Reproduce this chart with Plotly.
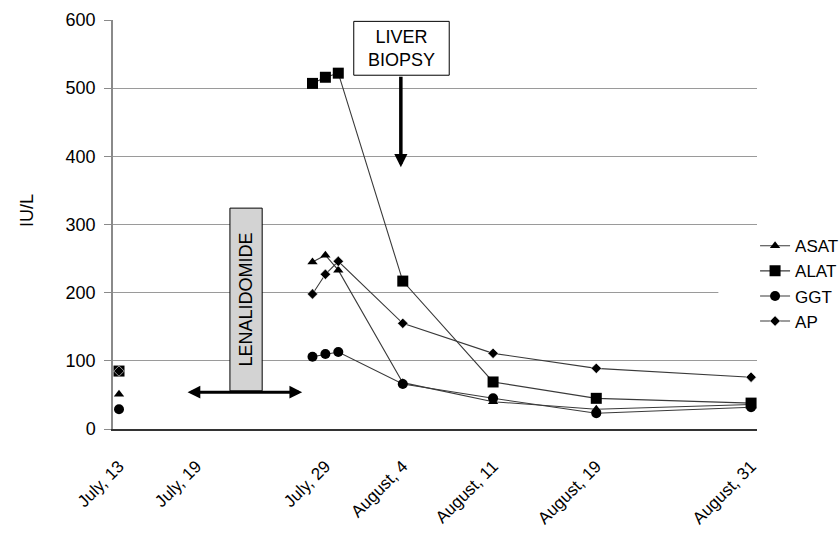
import pandas as pd
import plotly.graph_objects as go

# ---- data ----
dates = ["2009-07-13", "2009-07-28", "2009-07-29", "2009-07-30",
         "2009-08-04", "2009-08-11", "2009-08-19", "2009-08-31"]
asat = [51, 245, 255, 233, 68, 40, 29, 36]
alat = [85, 507, 516, 522, 217, 69, 45, 38]
ggt = [29, 106, 110, 113, 66, 45, 23, 32]
ap = [85, 198, 227, 246, 155, 111, 89, 76]

tick_dates = ["2009-07-13", "2009-07-19", "2009-07-29", "2009-08-04",
              "2009-08-11", "2009-08-19", "2009-08-31"]
tick_text = ["July, 13", "July, 19", "July, 29", "August, 4",
             "August, 11", "August, 19", "August, 31"]
y_ticks = [0, 100, 200, 300, 400, 500, 600]

FONT = "Liberation Sans, Arial, sans-serif"
LINE = "#3a3a3a"
base = pd.Timestamp("2009-07-13")


def day(d):
    return (base + pd.Timedelta(days=d)).strftime("%Y-%m-%d %H:%M")


def broken(vals):
    # first measurement is isolated (no connecting line)
    return vals[:1] + [None] + vals[1:]


xs = broken(dates)

series = [
    ("ASAT", asat, "triangle-up", 9),
    ("ALAT", alat, "square", 11),
    ("GGT", ggt, "circle", 10),
    ("AP", ap, "diamond", 8),
]

fig = go.Figure()
for name, vals, sym, size in series:
    fig.add_trace(go.Scatter(
        x=xs, y=broken(vals), name=name, mode="lines+markers",
        connectgaps=False,
        line=dict(color=LINE, width=1.1),
        marker=dict(symbol=sym, size=size, color="black",
                    line=dict(color="white" if name == "AP" else "black",
                              width=0.6 if name == "AP" else 0)),
    ))

shapes = [
    # white legend backing over the gridline
    dict(type="rect", xref="paper", yref="paper", x0=0.94, x1=1.0,
         y0=0.205, y1=0.48, fillcolor="white", line=dict(width=0),
         layer="above"),
    # lenalidomide box
    dict(type="rect", xref="x", yref="y", x0=day(8.6), x1=day(11.1),
         y0=56, y1=324, fillcolor="#d3d3d3",
         line=dict(color="black", width=1), layer="above"),
    # liver biopsy box
    dict(type="rect", xref="x", yref="y", x0=day(18.2), x1=day(25.6),
         y0=519, y1=598, fillcolor="white",
         line=dict(color="black", width=1), layer="above"),
]

annotations = [
    dict(text="LENALIDOMIDE", x=day(9.85), y=190, xref="x", yref="y",
         textangle=-90, showarrow=False,
         font=dict(size=18, color="black", family=FONT)),
    dict(text="LIVER<br>BIOPSY", x=day(21.9), y=558, xref="x", yref="y",
         showarrow=False, font=dict(size=18, color="black", family=FONT)),
    # biopsy arrow
    dict(x=day(21.85), y=384, ax=day(21.85), ay=519, xref="x", yref="y",
         axref="x", ayref="y", text="", showarrow=True, arrowhead=2,
         arrowsize=0.75, arrowwidth=3.5, arrowcolor="black"),
    # treatment period double arrow
    dict(x=day(14.2), y=54, ax=day(5.2), ay=54, xref="x", yref="y",
         axref="x", ayref="y", text="", showarrow=True, arrowhead=2,
         startarrowhead=2, arrowside="end+start", arrowsize=0.85,
         startarrowsize=0.85, arrowwidth=3, arrowcolor="black"),
    # y title
    dict(text="IU/L", x=-0.134, y=0.535, xref="paper", yref="paper",
         xanchor="center", yanchor="middle",
         textangle=-90, showarrow=False,
         font=dict(size=18, color="black", family=FONT)),
]

fig.update_layout(
    width=840, height=534,
    margin=dict(l=113, r=83, t=20, b=105, autoexpand=False),
    paper_bgcolor="white", plot_bgcolor="white",
    font=dict(family=FONT, color="black", size=17),
    showlegend=True,
    legend=dict(x=0.997, y=0.491, xanchor="left", yanchor="top",
                bgcolor="rgba(255,255,255,0)", font=dict(size=17),
                borderwidth=0),
    shapes=shapes, annotations=annotations,
)
fig.update_xaxes(
    type="date", range=[day(-0.465), day(49.46)], automargin=False,
    tickvals=tick_dates, ticktext=tick_text, tickangle=-45,
    showgrid=False, zeroline=False, showline=True, linecolor="#333333",
    linewidth=1.5, ticks="", ticklabelstandoff=19,
    tickfont=dict(size=17, family=FONT),
)
fig.update_yaxes(
    range=[0, 600], tickvals=y_ticks, showgrid=True, gridcolor="#9a9a9a",
    gridwidth=1, zeroline=False, showline=True, linecolor="#8a8a8a",
    linewidth=1.5, ticks="outside", ticklen=7, tickcolor="#8a8a8a",
    tickfont=dict(size=18, family=FONT), ticklabelstandoff=5,
    automargin=False,
)

fig.write_html("out.html", config={"displayModeBar": False},
               post_script="document.body.style.margin='0';")
